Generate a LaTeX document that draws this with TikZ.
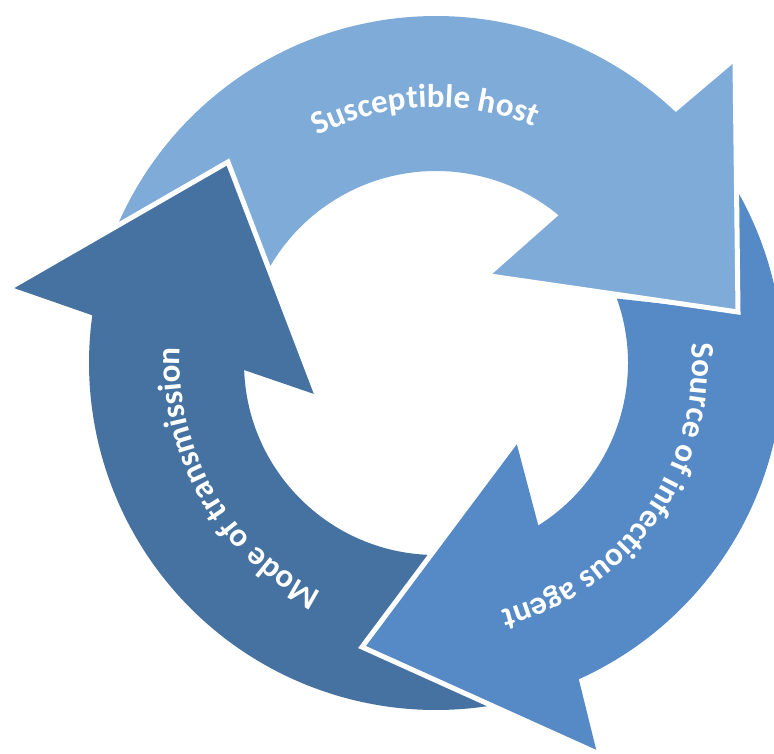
\documentclass[tikz,border=0pt]{standalone}
\usepackage{fontspec}
\newfontfamily\lblfamily{Carlito}
\usetikzlibrary{calc,decorations.text}
\definecolor{lightA}{RGB}{127,171,217}
\definecolor{midA}{RGB}{85,138,199}
\definecolor{darkA}{RGB}{70,114,161}
\newcommand\lblfont{\lblfamily\bfseries\fontsize{33}{40}\selectfont}
\tikzset{
  headedge/.style={draw=white, line width=5pt, line join=miter},
  arclabel/.style={decorate, decoration={text along path, text align=center, text color=white, text={|\lblfont|#1}}}
}
\begin{document}
\begin{tikzpicture}[x=1pt,y=1pt]
\path[use as bounding box] (0,0) rectangle (774,-754);
\coordinate (C) at (436,-363);
% light head
\coordinate (LPo) at (735,-62);
\coordinate (LT) at (738,-312);
\coordinate (LPi) at (490,-276);
% mid head
\coordinate (MPo) at (597,-753);
\coordinate (MT) at (362,-647);
\coordinate (MPi) at (516,-441);
% dark head
\coordinate (DPo) at (11,-287);
\coordinate (DT) at (228,-162);
\coordinate (DPi) at (317,-395);

\fill[lightA] ($(C)+(156.7:347)$) arc[start angle=156.7,end angle=46.3,radius=347]
  -- (LPo) -- (LT) -- (LPi) -- ($(C)+(50.3:192)$)
  arc[start angle=50.3,end angle=150.6,radius=192] -- (DT) -- cycle;

\fill[midA] ($(C)+(30:347)$) arc[start angle=30,end angle=-65.7,radius=347]
  -- (MPo) -- (MT) -- (MPi) -- ($(C)+(-57.8:192)$)
  arc[start angle=-57.8,end angle=19.6,radius=192] -- (LT) -- cycle;

\fill[darkA] ($(C)+(279.2:347)$) arc[start angle=279.2,end angle=172.1,radius=347]
  -- (DPo) -- (DT) -- (DPi) -- ($(C)+(182.1:192)$)
  arc[start angle=182.1,end angle=268.4,radius=192] -- (MT) -- cycle;

\draw[headedge] (LPo) -- (LT) -- (LPi);
\draw[headedge] (MPo) -- (MT) -- (MPi);
\draw[headedge] (DPo) -- (DT) -- (DPi);

\path[arclabel={Susceptible host}] ($(C)+(132.5:256)$) arc[start angle=132.5,end angle=52.5,radius=256];
\path[arclabel={Source of infectious agent}] ($(C)+(14.5:256)$) arc[start angle=14.5,end angle=-85.5,radius=256];
\path[arclabel={Mode of transmission}] ($(C)+(260:256)$) arc[start angle=260,end angle=160,radius=256];
\end{tikzpicture}
\end{document}
